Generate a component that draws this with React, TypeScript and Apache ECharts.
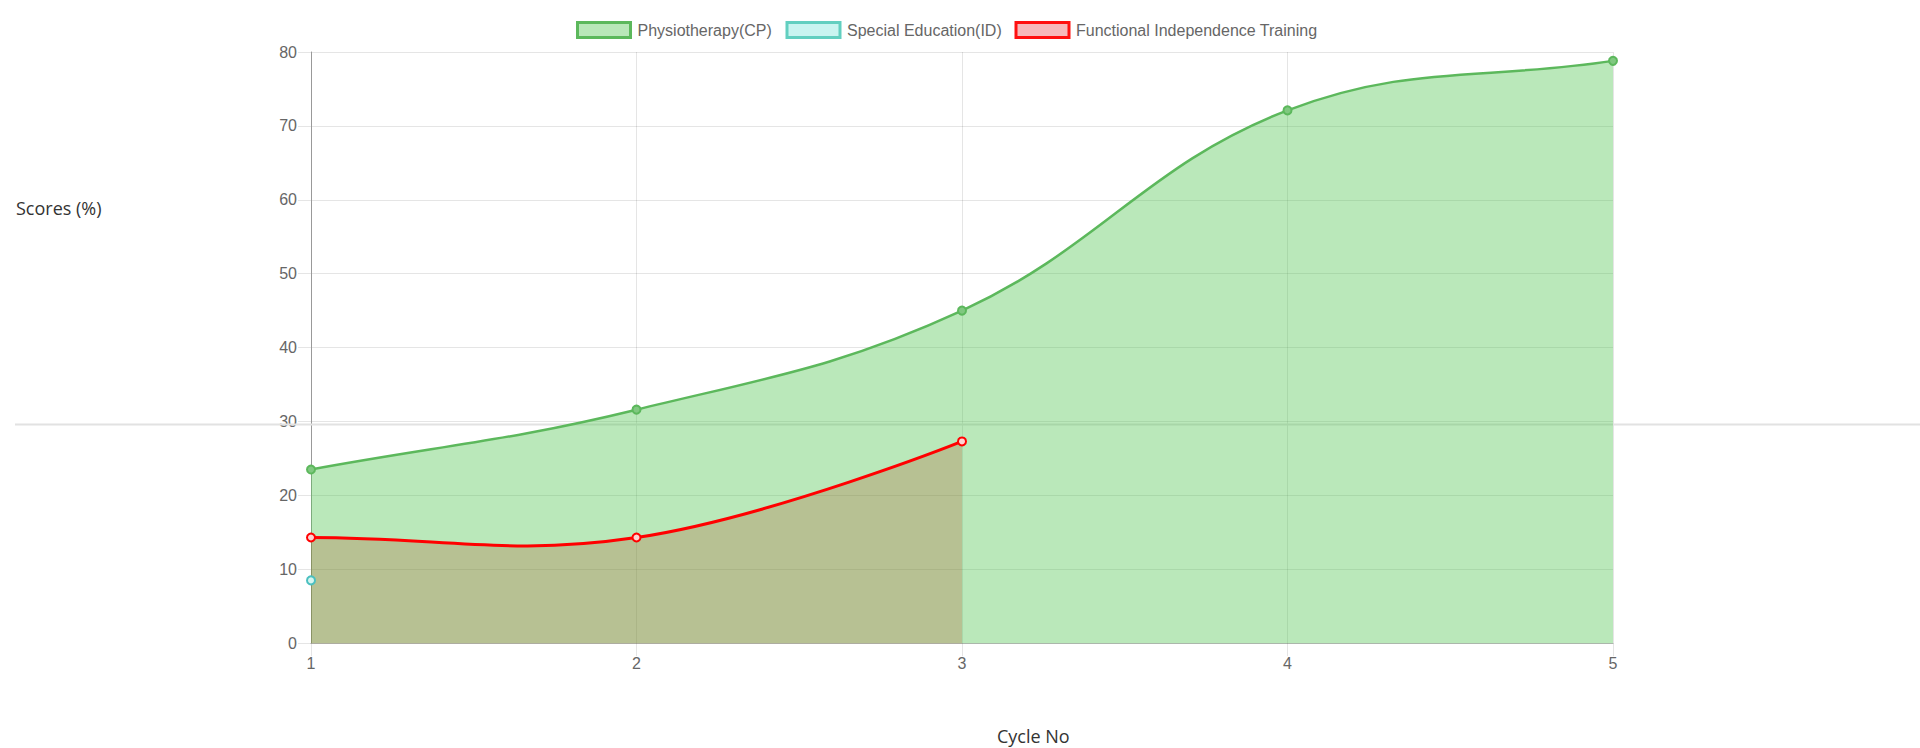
import React, { useEffect, useRef } from "react";
import * as echarts from "echarts";

const cycles = ["1", "2", "3", "4", "5"];
const physiotherapy = [23.5, 31.6, 45.0, 72.1, 78.8];
const specialEducation: (number | string)[] = [8.5, "-", "-", "-", "-"];
const functionalTraining: (number | string)[] = [14.3, 14.3, 27.3, "-", "-"];

const seriesNames = ["Physiotherapy(CP)", "Special Education(ID)", "Functional Independence Training"];
const yAxisName = "Scores (%)";
const xAxisName = "Cycle No";

type Pt = [number, number] | null;

// Chart.js-style cubic spline (tension 0.4), control points capped to the plot area
function buildPath(pts: Pt[], area: { x: number; y: number; width: number; height: number }, tension = 0.4) {
  const n = pts.length;
  const ctrl: { p: [number, number]; n: [number, number] }[] = [];
  const cap = (v: number, lo: number, hi: number) => Math.max(lo, Math.min(hi, v));
  for (let i = 0; i < n; i++) {
    const cur = pts[i];
    if (!cur) {
      ctrl.push({ p: [NaN, NaN], n: [NaN, NaN] });
      continue;
    }
    const prev = i > 0 ? pts[i - 1] : pts[0];
    const next = i < n - 1 ? pts[i + 1] : pts[n - 1];
    const d01 = prev ? Math.hypot(cur[0] - prev[0], cur[1] - prev[1]) : NaN;
    const d12 = next ? Math.hypot(next[0] - cur[0], next[1] - cur[1]) : NaN;
    let s01 = d01 / (d01 + d12);
    let s12 = d12 / (d01 + d12);
    if (isNaN(s01)) s01 = 0;
    if (isNaN(s12)) s12 = 0;
    const fa = tension * s01;
    const fb = tension * s12;
    const dx = prev && next ? next[0] - prev[0] : 0;
    const dy = prev && next ? next[1] - prev[1] : 0;
    const cp: [number, number] = [cur[0] - fa * dx, cur[1] - fa * dy];
    const cn: [number, number] = [cur[0] + fb * dx, cur[1] + fb * dy];
    const x0 = area.x, x1 = area.x + area.width, y0 = area.y, y1 = area.y + area.height;
    ctrl.push({
      p: [cap(cp[0], x0, x1), cap(cp[1], y0, y1)],
      n: [cap(cn[0], x0, x1), cap(cn[1], y0, y1)],
    });
  }
  let d = "";
  let first: [number, number] | null = null;
  let last: [number, number] | null = null;
  for (let i = 0; i < n; i++) {
    const cur = pts[i];
    if (!cur) continue;
    if (!last) {
      d += `M${cur[0]},${cur[1]}`;
      first = cur;
    } else {
      const a = ctrl[i - 1].n;
      const b = ctrl[i].p;
      d += ` C${a[0]},${a[1]} ${b[0]},${b[1]} ${cur[0]},${cur[1]}`;
    }
    last = cur;
  }
  return { d, first, last };
}

export default function App() {
  const ref = useRef<HTMLDivElement>(null);
  useEffect(() => {
    if (!ref.current) return;
    const chart = echarts.init(ref.current, undefined, { renderer: "svg" });
    const axisFont = { fontFamily: "'Liberation Sans', Arial, sans-serif", fontSize: 16, color: "#666" };
    const gridColor = "rgba(0,0,0,0.1)";
    const legendBase = {
      top: 21,
      padding: 0,
      icon: "rect",
      itemWidth: 53,
      itemHeight: 15,
      textStyle: { ...axisFont, padding: [0, 0, 0, 2] },
      selectedMode: false,
    };

    const renderCurves = (params: any, api: any) => {
      if (params.dataIndex !== 0) return null;
      const area = params.coordSys;
      const toPx = (arr: (number | string)[]): Pt[] =>
        arr.map((v, i) => (typeof v === "number" ? (api.coord([i, v]) as [number, number]) : null));
      const base = api.coord([0, 0])[1];
      const green = buildPath(toPx(physiotherapy), area);
      const red = buildPath(toPx(functionalTraining), area);
      const fillPath = (p: ReturnType<typeof buildPath>) =>
        `${p.d} L${p.last![0]},${base} L${p.first![0]},${base} Z`;
      return {
        type: "group",
        children: [
          { type: "path", shape: { pathData: fillPath(red) }, style: { fill: "rgba(235,0,0,0.25)", stroke: "none" } },
          { type: "path", shape: { pathData: fillPath(green) }, style: { fill: "rgba(83,198,83,0.4)", stroke: "none" } },
          { type: "path", shape: { pathData: red.d }, style: { fill: "none", stroke: "#ff0000", lineWidth: 3 } },
          { type: "path", shape: { pathData: green.d }, style: { fill: "none", stroke: "#5cb85c", lineWidth: 2.5 } },
        ],
      };
    };

    chart.setOption({
      animation: false,
      backgroundColor: "#fff",
      grid: { left: 311, right: 307, top: 52, bottom: 104.8, containLabel: false },
      legend: [
        {
          ...legendBase,
          left: 576,
          data: [{ name: seriesNames[0], itemStyle: { color: "#b9e7b9", borderColor: "#5cb85c", borderWidth: 3 } }],
        },
        {
          ...legendBase,
          left: 785.5,
          data: [{ name: seriesNames[1], itemStyle: { color: "#c9f4f0", borderColor: "#62cfc0", borderWidth: 3 } }],
        },
        {
          ...legendBase,
          left: 1014.5,
          data: [{ name: seriesNames[2], itemStyle: { color: "#f7b9bb", borderColor: "#ff1010", borderWidth: 3 } }],
        },
      ],
      xAxis: {
        type: "category",
        data: cycles,
        boundaryGap: false,
        axisLine: { show: true, lineStyle: { color: "#b5b5b5", width: 1 } },
        axisTick: { show: true, length: 13, alignWithLabel: true, lineStyle: { color: gridColor } },
        axisLabel: { ...axisFont, margin: 12 },
        splitLine: { show: true, lineStyle: { color: gridColor, width: 1 } },
      },
      yAxis: {
        type: "value",
        min: 0,
        max: 80,
        interval: 10,
        axisLine: { show: true, lineStyle: { color: "#999", width: 1 } },
        axisTick: { show: true, length: 13, lineStyle: { color: gridColor } },
        axisLabel: { ...axisFont, margin: 14 },
        splitLine: { show: true, lineStyle: { color: gridColor, width: 1 } },
      },
      graphic: [
        {
          type: "line",
          z: 1,
          shape: { x1: 15, y1: 424.5, x2: 1920, y2: 424.5 },
          style: { stroke: "#e2e2e2", lineWidth: 2 },
        },
        {
          type: "text",
          z: 10,
          left: 16,
          top: 199,
          style: { text: yAxisName, font: "18px 'Open Sans', sans-serif", fill: "#333" },
        },
        {
          type: "text",
          z: 10,
          left: 997,
          top: 726,
          style: { text: xAxisName, font: "18px 'Open Sans', sans-serif", fill: "#333", lineHeight: 20 },
        },
      ],
      series: [
        {
          name: "curves",
          type: "custom",
          z: 3,
          clip: false,
          silent: true,
          data: physiotherapy.map((v, i) => [i, v]),
          encode: { x: 0, y: 1 },
          renderItem: renderCurves,
        },
        {
          name: seriesNames[2],
          type: "line",
          data: functionalTraining,
          z: 5,
          clip: false,
          symbol: "circle",
          symbolSize: 8,
          lineStyle: { width: 0, opacity: 0 },
          itemStyle: { color: "#ffd2d2", borderColor: "#ff0000", borderWidth: 2 },
        },
        {
          name: seriesNames[1],
          type: "line",
          data: specialEducation,
          z: 5,
          clip: false,
          symbol: "circle",
          symbolSize: 8,
          lineStyle: { width: 0, opacity: 0 },
          itemStyle: { color: "#d6f5f0", borderColor: "#4bc0c0", borderWidth: 2 },
        },
        {
          name: seriesNames[0],
          type: "line",
          data: physiotherapy,
          z: 6,
          clip: false,
          symbol: "circle",
          symbolSize: 8,
          lineStyle: { width: 0, opacity: 0 },
          itemStyle: { color: "#80c880", borderColor: "#5cb85c", borderWidth: 2 },
        },
      ],
    });
    return () => chart.dispose();
  }, []);
  return (
    <div
      ref={ref}
      style={{ position: "absolute", left: 0, top: 0, width: 1920, height: 748 }}
    />
  );
}
